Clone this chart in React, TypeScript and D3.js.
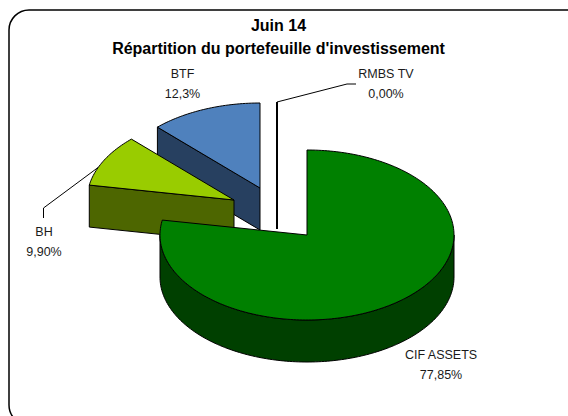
import React from "react";
import * as d3 from "d3";

const sliceNames = ["CIF ASSETS", "BH", "BTF", "RMBS TV"];
const sliceValues = [77.85, 9.9, 12.3, 0.0];
const sliceLabels = ["77,85%", "9,90%", "12,3%", "0,00%"];
const topColors = ["#008000", "#99CC00", "#4F81BD", "#FFFFFF"];
const sideColors = ["#004000", "#4D6600", "#274060", "#FFFFFF"];
const titleLines = ["Juin 14", "Répartition du portefeuille d'investissement"];

const width = 568;
const height = 416;
const rx = 147;
const ry = 85;
const depth = 42;

// where each slice's apex ends up once exploded
const apexes = [
  [307, 235],
  [234, 200],
  [260, 188],
  [277, 187],
];
const labelPos = [
  [441, 356],
  [44, 233],
  [182.5, 75],
  [386, 75],
];

const font = "'Liberation Sans', Arial, sans-serif";
const line = d3.line();
const closed = d3.line().curve(d3.curveLinearClosed);

const arcs = d3.pie<number>().sort(null).value((d) => d)(sliceValues);

const pt = (i: number, a: number, dy = 0): [number, number] => [
  apexes[i][0] + rx * Math.sin(a),
  apexes[i][1] - ry * Math.cos(a) + dy,
];

// points along the rim between two angles
const rim = (i: number, a0: number, a1: number, dy = 0) => {
  const n = Math.max(2, Math.ceil(Math.abs(a1 - a0) / 0.02));
  return d3.range(n + 1).map((k) => pt(i, a0 + ((a1 - a0) * k) / n, dy));
};

const App = () => {
  const [cif, bh, btf] = arcs;
  const apexDown = (i: number): [number, number] => [apexes[i][0], apexes[i][1] + depth];

  const sliceTop = (i: number) => {
    const a = arcs[i];
    return closed([apexes[i] as [number, number], ...rim(i, a.startAngle, a.endAngle)]);
  };

  // only the near half of the big slice shows its outer wall
  const cifWall = closed([
    ...rim(0, Math.PI / 2, (3 * Math.PI) / 2),
    ...rim(0, (3 * Math.PI) / 2, Math.PI / 2, depth),
  ]);

  const bhFront = closed([
    pt(1, bh.startAngle),
    apexes[1] as [number, number],
    apexDown(1),
    pt(1, bh.startAngle, depth),
  ]);
  const btfFront = closed([
    pt(2, btf.startAngle),
    apexes[2] as [number, number],
    apexDown(2),
    pt(2, btf.startAngle, depth),
  ]);

  const rmbsTop = pt(3, 0);
  const bhLeaderAngle = bh.startAngle + (bh.endAngle - bh.startAngle) * 0.35;

  return (
    <svg
      width={width}
      height={height}
      style={{ position: "absolute", left: 0, top: 0, background: "#fff" }}
      fontFamily={font}
    >
      {/* the frame runs past the right and bottom of the picture */}
      <rect x={9} y={10} width={580} height={415} rx={20} fill="#fff" stroke="#000" strokeWidth={1.5} />

      {titleLines.map((t, i) => (
        <text key={t} x={278.5} y={31 + i * 23} textAnchor="middle" fontSize={16} fontWeight="bold" fill="#000">
          {t}
        </text>
      ))}

      <g stroke="#000" strokeWidth={1} strokeLinejoin="round">
        <path d={btfFront!} fill={sideColors[2]} />
        <path d={sliceTop(2)!} fill={topColors[2]} />

        <line x1={rmbsTop[0]} y1={rmbsTop[1]} x2={apexes[3][0]} y2={apexes[3][1] + depth} strokeWidth={2} />

        <path d={bhFront!} fill={sideColors[1]} />
        <path d={sliceTop(1)!} fill={topColors[1]} />

        <path d={cifWall!} fill={sideColors[0]} />
        <path d={sliceTop(0)!} fill={topColors[0]} />
      </g>

      {/* leader lines */}
      <g fill="none" stroke="#000" strokeWidth={1}>
        <path d={line([rmbsTop, [347, 84], [356, 84]])!} />
        <path d={line([pt(1, bhLeaderAngle), [43.5, 208], [43.5, 218]])!} />
      </g>

      {sliceNames.map((name, i) => (
        <text key={name} textAnchor="middle" fontSize={12.5} fill="#1a1a1a">
          <tspan x={labelPos[i][0]} y={labelPos[i][1] + 3}>{name}</tspan>
          <tspan x={labelPos[i][0]} y={labelPos[i][1] + 23}>{sliceLabels[i]}</tspan>
        </text>
      ))}
    </svg>
  );
};

export default App;
